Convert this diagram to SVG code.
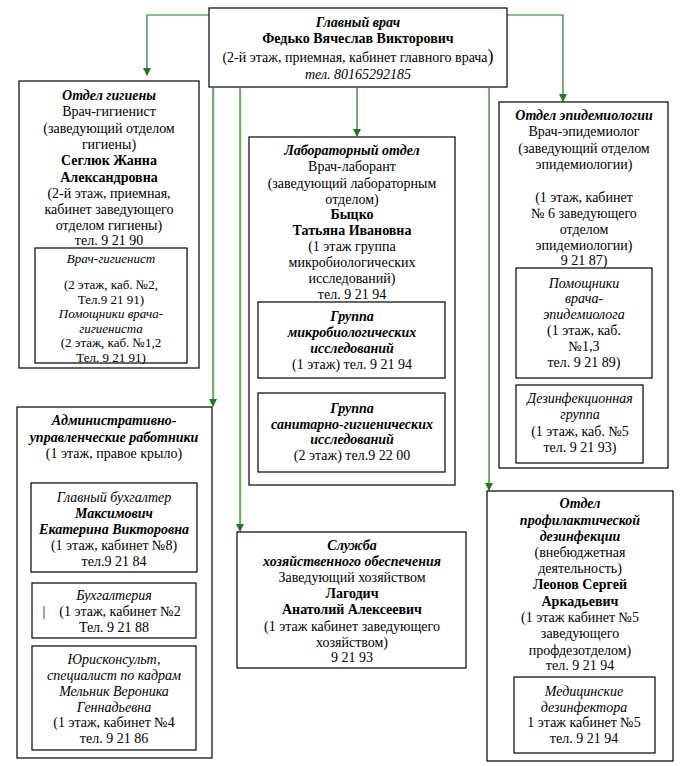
<svg xmlns="http://www.w3.org/2000/svg" width="684" height="766" viewBox="0 0 684 766" font-family="Liberation Serif, DejaVu Serif, serif">
<defs>
<marker id="arr" markerWidth="8" markerHeight="8" refX="7" refY="4" orient="auto" markerUnits="userSpaceOnUse">
<path d="M0,0 L8,4 L0,8 Z" fill="#1f7a1f"/>
</marker>
<style>
text{font-family:'Liberation Serif','DejaVu Serif',serif;font-size:14px;fill:#000;text-anchor:middle}
.b{font-weight:bold}
.i{font-style:italic}
.bi{font-weight:bold;font-style:italic}
.s{font-size:13px}
rect{fill:#fff;stroke:#000;stroke-width:1.2}
.c{fill:none;stroke:#1f7a1f;stroke-width:1.2}
.g{fill:none;stroke:#b8e0b8;stroke-width:1}
</style>
</defs>
<rect x="0" y="0" width="684" height="766" style="stroke:none"/>
<g id="connectors">
<path class="g" d="M214,89 V398 M241,89 V522"/>
<path class="c" d="M209,15 H147 V75" marker-end="url(#arr)"/>
<path class="c" d="M213,88 V406" marker-end="url(#arr)"/>
<path class="c" d="M240,88 V531" marker-end="url(#arr)"/>
<path class="c" d="M357,88 V136" marker-end="url(#arr)"/>
<path class="c" d="M489,88 V490" marker-end="url(#arr)"/>
<path class="c" d="M507,15 H563 V101" marker-end="url(#arr)"/>
</g>
<g id="main">
<rect x="209" y="8" width="298" height="79"/>
<text x="358" y="27" class="bi">Главный врач</text>
<text x="358" y="43" class="b">Федько Вячеслав Викторович</text>
<text x="358" y="62">(2-й этаж, приемная, кабинет главного врача<tspan style="font-size:18px">)</tspan></text>
<text x="358" y="79" class="i">тел. 80165292185</text>
</g>
<g id="hygiene">
<rect x="19" y="81" width="180" height="287"/>
<text x="109" y="100" class="bi">Отдел гигиены</text>
<text x="109" y="116">Врач-гигиенист</text>
<text x="109" y="133">(заведующий отделом</text>
<text x="109" y="149">гигиены)</text>
<text x="109" y="165" class="b">Сеглюк Жанна</text>
<text x="109" y="182" class="b">Александровна</text>
<text x="109" y="198">(2-й этаж, приемная,</text>
<text x="109" y="214">кабинет заведующего</text>
<text x="109" y="230">отделом гигиены)</text>
<text x="109" y="245">тел. 9 21 90</text>
</g>
<g id="hygiene-staff">
<rect x="35" y="248" width="152" height="115"/>
<text x="111" y="263" class="i s">Врач-гигиенист</text>
<text x="111" y="289" class="s">(2 этаж, каб. №2,</text>
<text x="111" y="303.5" class="s">Тел.9 21 91)</text>
<text x="111" y="318" class="i s">Помощники врача-</text>
<text x="111" y="332.5" class="i s">гигиениста</text>
<text x="111" y="347" class="s">(2 этаж, каб. №1,2</text>
<text x="111" y="361.5" class="s">Тел. 9 21 91)</text>
</g>
<g id="lab">
<rect x="249" y="137" width="206" height="348"/>
<text x="352" y="155" class="bi">Лабораторный отдел</text>
<text x="352" y="171">Врач-лаборант</text>
<text x="352" y="188">(заведующий лабораторным</text>
<text x="352" y="204">отделом)</text>
<text x="352" y="219" class="b">Быцко</text>
<text x="352" y="235" class="b">Татьяна Ивановна</text>
<text x="352" y="251">(1 этаж группа</text>
<text x="352" y="267">микробиологических</text>
<text x="352" y="283">исследований)</text>
<text x="352" y="299">тел. 9 21 94</text>
</g>
<g id="lab-micro">
<rect x="258" y="302" width="187" height="76"/>
<text x="352" y="321" class="bi">Группа</text>
<text x="352" y="337" class="bi">микробиологических</text>
<text x="352" y="353" class="bi">исследований</text>
<text x="352" y="369">(1 этаж) тел. 9 21 94</text>
</g>
<g id="lab-sanit">
<rect x="258" y="393" width="187" height="79"/>
<text x="352" y="413" class="bi">Группа</text>
<text x="352" y="429" class="bi">санитарно-гигиенических</text>
<text x="352" y="444" class="bi">исследований</text>
<text x="352" y="460">(2 этаж) тел.9 22 00</text>
</g>
<g id="epid">
<rect x="499" y="102" width="169" height="366"/>
<text x="584" y="120" class="bi">Отдел эпидемиологии</text>
<text x="584" y="136">Врач-эпидемиолог</text>
<text x="584" y="153">(заведующий отделом</text>
<text x="584" y="169">эпидемиологии)</text>
<text x="584" y="202">(1 этаж, кабинет</text>
<text x="584" y="218">№ 6 заведующего</text>
<text x="584" y="234">отделом</text>
<text x="584" y="250">эпидемиологии)</text>
<text x="584" y="265">9 21 87)</text>
</g>
<g id="epid-assist">
<rect x="516" y="268" width="136" height="110"/>
<text x="584" y="288" class="i">Помощники</text>
<text x="584" y="303" class="i">врача-</text>
<text x="584" y="319" class="i">эпидемиолога</text>
<text x="584" y="335">(1 этаж, каб.</text>
<text x="584" y="351">№1,3</text>
<text x="584" y="367">тел. 9 21 89)</text>
</g>
<g id="epid-disinf">
<rect x="516" y="385" width="127" height="78"/>
<text x="580" y="403" class="i">Дезинфекционная</text>
<text x="580" y="419" class="i">группа</text>
<text x="580" y="436">(1 этаж, каб. №5</text>
<text x="580" y="452">тел. 9 21 93)</text>
</g>
<g id="admin">
<rect x="17" y="407" width="195" height="351"/>
<text x="114" y="425" class="bi">Административно-</text>
<text x="114" y="442" class="bi">управленческие работники</text>
<text x="114" y="458">(1 этаж, правое крыло)</text>
</g>
<g id="admin-chief">
<rect x="31" y="483" width="166" height="89"/>
<text x="114" y="502" class="i">Главный бухгалтер</text>
<text x="114" y="518" class="bi">Максимович</text>
<text x="114" y="534" class="bi">Екатерина Викторовна</text>
<text x="114" y="550">(1 этаж, кабинет №8)</text>
<text x="114" y="566">тел.9 21 84</text>
</g>
<g id="admin-acc">
<rect x="32" y="583" width="164" height="55"/>
<text x="114" y="600" class="i">Бухгалтерия</text>
<text x="44" y="616">|</text>
<text x="120" y="616">(1 этаж, кабинет №2</text>
<text x="114" y="632">Тел. 9 21 88</text>
</g>
<g id="admin-legal">
<rect x="32" y="646" width="164" height="104"/>
<text x="114" y="664" class="i">Юрисконсульт,</text>
<text x="114" y="680" class="i">специалист по кадрам</text>
<text x="114" y="696" class="i">Мельник Вероника</text>
<text x="114" y="712" class="i">Геннадьевна</text>
<text x="114" y="727">(1 этаж, кабинет №4</text>
<text x="114" y="743">тел. 9 21 86</text>
</g>
<g id="service">
<rect x="237" y="532" width="229" height="136"/>
<text x="352" y="550" class="bi">Служба</text>
<text x="352" y="566" class="bi">хозяйственного обеспечения</text>
<text x="352" y="582">Заведующий хозяйством</text>
<text x="352" y="598" class="b">Лагодич</text>
<text x="352" y="614" class="b">Анатолий Алексеевич</text>
<text x="352" y="631">(1 этаж кабинет заведующего</text>
<text x="352" y="647">хозяйством)</text>
<text x="352" y="662">9 21 93</text>
</g>
<g id="prof">
<rect x="487" y="491" width="186" height="270"/>
<text x="580" y="508" class="bi">Отдел</text>
<text x="580" y="525" class="bi">профилактической</text>
<text x="580" y="541" class="bi">дезинфекции</text>
<text x="580" y="557">(внебюджетная</text>
<text x="580" y="573">деятельность)</text>
<text x="580" y="589" class="b">Леонов Сергей</text>
<text x="580" y="606" class="b">Аркадьевич</text>
<text x="580" y="622">(1 этаж кабинет №5</text>
<text x="580" y="638">заведующего</text>
<text x="580" y="655">профдезотделом)</text>
<text x="580" y="670">тел. 9 21 94</text>
</g>
<g id="prof-med">
<rect x="514" y="677" width="141" height="76"/>
<text x="584" y="696" class="i">Медицинские</text>
<text x="584" y="712" class="i">дезинфектора</text>
<text x="584" y="727">1 этаж кабинет №5</text>
<text x="584" y="743">тел. 9 21 94</text>
</g>
</svg>
